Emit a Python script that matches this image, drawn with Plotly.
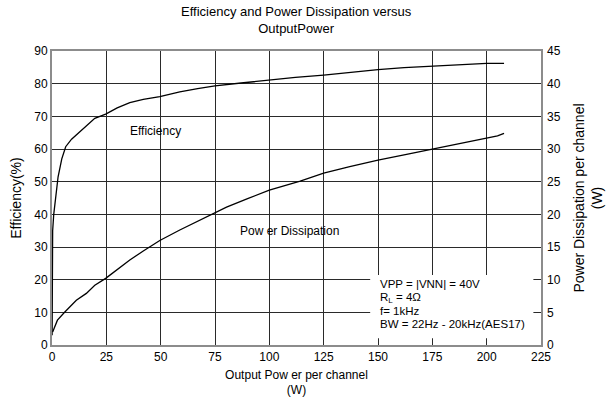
import plotly.graph_objects as go

# Output power per channel (W) and efficiency (%)
eff_power = [0.05, 0.3, 0.8, 1.5, 2.8, 4.5, 6.3, 9, 12, 16, 19.7, 24.7, 30, 35.8, 42, 49.6, 58.8, 67,
             75, 87, 100, 112, 125, 138, 150, 162, 175, 188, 195, 200, 208]
efficiency = [3, 35, 40, 44, 51.5, 57, 60.7, 63, 64.8, 67.2, 69.4, 70.7, 72.6, 74.2, 75.2, 76, 77.5, 78.5,
              79.3, 80.2, 81.1, 81.9, 82.6, 83.5, 84.3, 84.9, 85.4, 85.8, 86.1, 86.2, 86.2]

# Output power per channel (W) and power dissipation per channel (W)
pd_power = [0.3, 2.5, 5.9, 11.2, 15.8, 19.7, 24.7, 30, 35.8, 42, 49.6, 58.8, 66, 74.2, 80.3,
            90, 100, 114.2, 125, 137, 150, 162, 175, 188, 200, 205, 208]
dissipation = [2.0, 3.8, 5.05, 6.85, 7.9, 9.15, 10.2, 11.6, 13.0, 14.4, 16.0, 17.6, 18.8, 20.1, 21.1,
               22.4, 23.7, 25.1, 26.3, 27.3, 28.3, 29.1, 30.0, 30.9, 31.7, 32.0, 32.4]

x_ticks = [0, 25, 50, 75, 100, 125, 150, 175, 200, 225]

FONT = "Liberation Sans, Arial, sans-serif"
GRID = "#2a2a2a"
FRAME = "#8c8c8c"

fig = go.Figure()
fig.add_trace(go.Scatter(x=eff_power, y=efficiency, mode="lines",
                         line=dict(color="black", width=1.3), showlegend=False))
fig.add_trace(go.Scatter(x=pd_power, y=dissipation, mode="lines", yaxis="y2",
                         line=dict(color="black", width=1.3), showlegend=False))

# white panel holding the test conditions
fig.add_shape(type="rect", xref="x", yref="y", x0=146.4, x1=221.5, y0=2.05, y1=21.4,
              fillcolor="white", line=dict(width=0), layer="above")

conditions = ["VPP = |VNN| = 40V", "R<sub>L</sub> = 4Ω", "f= 1kHz", "BW = 22Hz - 20kHz(AES17)"]
cond_y = [18.6, 14.4, 10.3, 6.3]
for txt, yy in zip(conditions, cond_y):
    fig.add_annotation(x=150.1, y=yy, xref="x", yref="y", text=txt, showarrow=False,
                       xanchor="left", yanchor="middle", font=dict(size=11.5, color="black", family=FONT))

fig.add_annotation(x=47.8, y=65.5, xref="x", yref="y", text="Efficiency", showarrow=False,
                   font=dict(size=12, color="black", family=FONT))
fig.add_annotation(x=109.5, y=34.8, xref="x", yref="y", text="Pow er Dissipation", showarrow=False,
                   font=dict(size=12, color="black", family=FONT))

# chart heading, two lines centred over the plot area
fig.add_annotation(x=0.5, y=1.105, xref="paper", yref="paper", showarrow=False,
                   text="Efficiency and Power Dissipation versus<br>OutputPower",
                   xanchor="center", yanchor="middle",
                   font=dict(size=13, color="black", family=FONT))

fig.update_layout(
    width=607, height=404,
    margin=dict(l=52, r=66, t=51, b=59, autoexpand=False),
    paper_bgcolor="white", plot_bgcolor="white",
    font=dict(family=FONT, size=12, color="black"),
    xaxis=dict(range=[0, 225], tickvals=x_ticks, showgrid=True, gridcolor=GRID, gridwidth=1,
               zeroline=False, showline=True, linecolor=FRAME, linewidth=2, mirror=True,
               ticks="", tickfont=dict(size=12), automargin=False,
               title=dict(text="Output Pow er per channel<br>(W)", font=dict(size=12), standoff=7)),
    yaxis=dict(range=[0, 90], dtick=10, showgrid=True, gridcolor=GRID, gridwidth=1,
               zeroline=False, showline=True, linecolor=FRAME, linewidth=2, mirror=True,
               ticks="", tickfont=dict(size=12), automargin=False,
               title=dict(text="Efficiency(%)", font=dict(size=14), standoff=9)),
    yaxis2=dict(range=[0, 45], dtick=5, overlaying="y", side="right", showgrid=False,
                zeroline=False, showline=False, ticks="", tickfont=dict(size=12),
                ticklabelstandoff=5, automargin=False,
                title=dict(text="Power Dissipation per channel<br>(W)", font=dict(size=14), standoff=14)),
)

fig.write_html("out.html")
